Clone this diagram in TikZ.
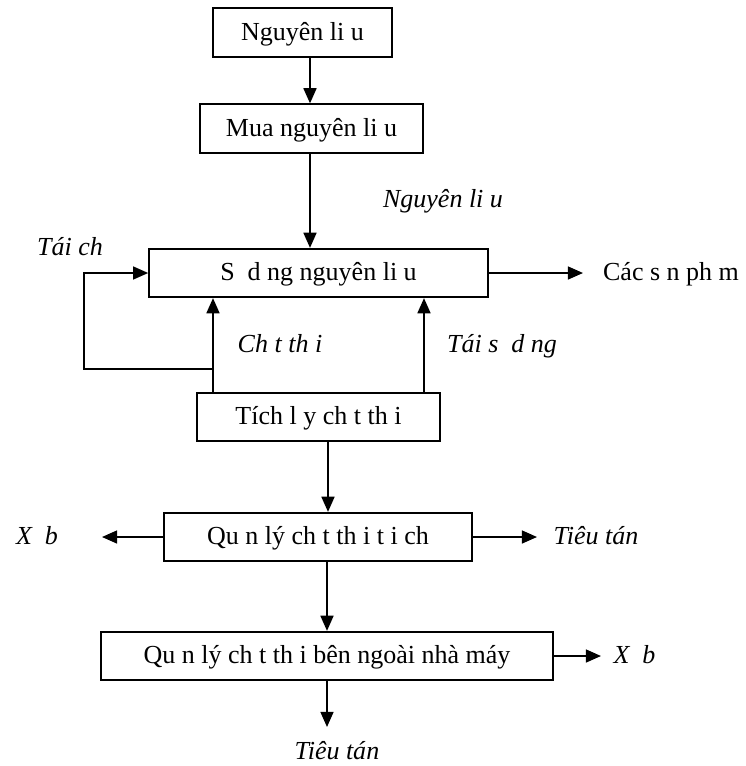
\documentclass[tikz,border=0pt]{standalone}
\usepackage{fontspec}
\setmainfont{Liberation Serif}
\usetikzlibrary{arrows.meta}

\begin{document}
\begin{tikzpicture}
  [x=0.4615pt,y=-0.4615pt,line width=0.8pt,
   every node/.style={font=\fontsize{12}{14}\selectfont,inner sep=0pt,
                      text height=9pt,text depth=2pt},
   box/.style={draw,rectangle,minimum height=22.4pt},
   lbl/.style={font=\fontsize{12}{14}\selectfont\itshape},
   arr/.style={-{Triangle[length=7pt,width=6pt]}}]
  \useasboundingbox (0,0) rectangle (746,766);

  \node[box,minimum width=82.6pt]  (nl)  at (302.5,32.5) {Nguyên li~u};
  \node[box,minimum width=102.9pt] (mua) at (311.5,128.5) {Mua nguyên li~u};
  \node[box,minimum width=156.4pt] (sd)  at (318.5,273) {S~ d~ng nguyên li~u};
  \node[box,minimum width=112.1pt] (tl)  at (318.5,417) {Tích l~y ch~t th~i};
  \node[box,minimum width=142.1pt] (ql)  at (318,537) {Qu~n lý ch~t th~i t~i ch~};
  \node[box,minimum width=208.6pt] (qn)  at (327,656) {Qu~n lý ch~t th~i bên ngoài nhà máy};

  \node (sp) at (671,273) {Các s~n ph~m};
  \node[lbl] (nlu) at (443,200) {Nguyên li~u};
  \node[lbl] (tc)  at (70,248) {Tái ch~};
  \node[lbl] (ct)  at (280,345) {Ch~t th~i};
  \node[lbl] (tsd) at (502,345) {Tái s~ d~ng};
  \node[lbl] (xb1) at (37,537) {X~ b};
  \node[lbl] (tt1) at (596,537) {Tiêu tán};
  \node[lbl] (xb2) at (634.5,656) {X~ b};
  \node[lbl] (tt2) at (337,752) {Tiêu tán};

  \coordinate (ra) at (583,273);
  \coordinate (xl) at (102,537);
  \coordinate (tr) at (537,537);
  \coordinate (xr) at (601,656);
  \coordinate (xd) at (327,727);
  \coordinate (j)  at (213,369);
  \coordinate (lp) at (84,369);

  \draw[arr] (310,0 |- nl.south) -- (310,0 |- mua.north);
  \draw[arr] (310,0 |- mua.south) -- (310,0 |- sd.north);
  \draw[arr] (213,0 |- tl.north) -- (213,0 |- sd.south);
  \draw[arr] (424,0 |- tl.north) -- (424,0 |- sd.south);
  \draw[arr] (j) -- (lp) |- (sd.west);
  \draw[arr] (328,0 |- tl.south) -- (328,0 |- ql.north);
  \draw[arr] (327,0 |- ql.south) -- (327,0 |- qn.north);
  \draw[arr] (327,0 |- qn.south) -- (xd);
  \foreach \from/\to in {sd.east/ra,ql.west/xl,ql.east/tr,qn.east/xr}
    \draw[arr] (\from) -- (\to);
\end{tikzpicture}
\end{document}
